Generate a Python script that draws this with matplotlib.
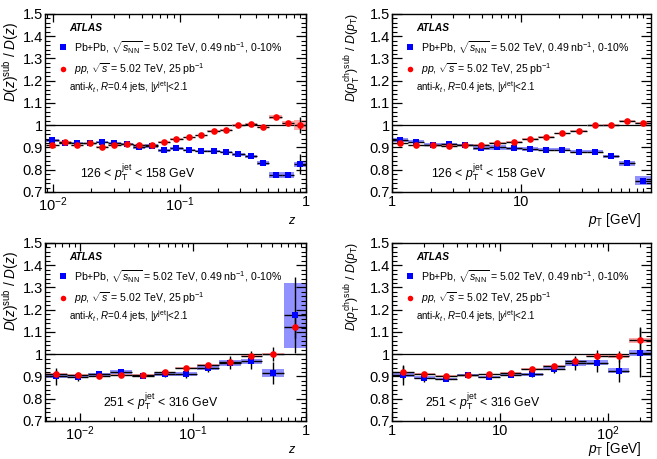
import numpy as np
import matplotlib
matplotlib.use("Agg")
import matplotlib.pyplot as plt
from matplotlib.ticker import MultipleLocator, FixedLocator, NullFormatter, LogLocator

plt.rcParams['font.family'] = ['Liberation Sans', 'DejaVu Sans']
plt.rcParams['mathtext.fontset'] = 'custom'
plt.rcParams['mathtext.rm'] = 'Liberation Sans'
plt.rcParams['mathtext.it'] = 'Liberation Sans:italic'
plt.rcParams['mathtext.bf'] = 'Liberation Sans:bold'

# ---- data: 126 < pT jet < 158 GeV, D(z) ----
z_edges_126 = [0.00877, 0.0110, 0.0138, 0.0173, 0.0217, 0.0272, 0.0341, 0.0427, 0.0536, 0.0672, 0.0842,
               0.1056, 0.1324, 0.166, 0.208, 0.261, 0.327, 0.410, 0.514, 0.645, 0.808, 1.0]
pbpb_z_126 = [0.932, 0.921, 0.921, 0.918, 0.925, 0.922, 0.916, 0.903, 0.907, 0.888, 0.897,
              0.890, 0.886, 0.886, 0.880, 0.869, 0.860, 0.831, 0.776, 0.776, 0.825]
pbpb_z_126_stat = [0.003, 0.003, 0.003, 0.003, 0.003, 0.003, 0.003, 0.003, 0.003, 0.003, 0.003,
                   0.003, 0.003, 0.003, 0.003, 0.003, 0.004, 0.005, 0.008, 0.010, 0.045]
pbpb_z_126_sys = [0.006, 0.004, 0.004, 0.004, 0.004, 0.004, 0.004, 0.008, 0.008, 0.006, 0.006,
                  0.005, 0.005, 0.005, 0.005, 0.005, 0.005, 0.009, 0.013, 0.014, 0.012]
pp_z_126 = [0.910, 0.925, 0.910, 0.918, 0.903, 0.913, 0.916, 0.913, 0.913, 0.925, 0.938,
            0.946, 0.954, 0.976, 0.978, 1.001, 1.006, 0.991, 1.038, 1.009, 1.001]
pp_z_126_stat = [0.002, 0.002, 0.002, 0.002, 0.002, 0.002, 0.002, 0.002, 0.002, 0.002, 0.002,
                 0.002, 0.002, 0.002, 0.002, 0.002, 0.003, 0.004, 0.006, 0.010, 0.035]
pp_z_126_sys = [0.003, 0.003, 0.003, 0.003, 0.003, 0.003, 0.003, 0.003, 0.003, 0.003, 0.003,
                0.003, 0.003, 0.003, 0.003, 0.003, 0.004, 0.004, 0.010, 0.008, 0.022]

# ---- data: 126 < pT jet < 158 GeV, D(pT) ----
pt_edges_126 = [1.0, 1.337, 1.787, 2.39, 3.19, 4.27, 5.71, 7.63, 10.2, 13.6, 18.2, 24.4, 32.6,
                43.5, 58.2, 77.8, 103.0]
pbpb_pt_126 = [0.934, 0.926, 0.913, 0.916, 0.910, 0.899, 0.900, 0.896, 0.894, 0.890, 0.890,
               0.882, 0.882, 0.860, 0.829, 0.751]
pbpb_pt_126_stat = [0.003, 0.003, 0.003, 0.003, 0.003, 0.003, 0.003, 0.003, 0.003, 0.003, 0.003,
                    0.003, 0.003, 0.003, 0.004, 0.006]
pbpb_pt_126_sys = [0.008, 0.006, 0.005, 0.005, 0.005, 0.009, 0.009, 0.008, 0.008, 0.006, 0.006,
                   0.005, 0.005, 0.005, 0.010, 0.020]
pp_pt_126 = [0.918, 0.910, 0.913, 0.907, 0.909, 0.913, 0.921, 0.926, 0.938, 0.949, 0.963,
             0.975, 0.999, 1.001, 1.021, 1.010]
pp_pt_126_stat = [0.002, 0.002, 0.002, 0.002, 0.002, 0.002, 0.002, 0.002, 0.002, 0.002, 0.002,
                  0.002, 0.002, 0.003, 0.004, 0.005]
pp_pt_126_sys = [0.003, 0.003, 0.003, 0.003, 0.003, 0.003, 0.003, 0.003, 0.003, 0.003, 0.003,
                 0.003, 0.003, 0.003, 0.004, 0.005]

# ---- data: 251 < pT jet < 316 GeV, D(z) ----
z_edges_251 = [0.00490, 0.00763, 0.01189, 0.01852, 0.02884, 0.0449, 0.0700, 0.1090, 0.1698,
               0.2645, 0.412, 0.642, 1.0]
pbpb_z_251 = [0.901, 0.899, 0.910, 0.921, 0.903, 0.910, 0.910, 0.938, 0.962, 0.968, 0.916, 1.175]
pbpb_z_251_stat = [0.037, 0.020, 0.015, 0.012, 0.010, 0.012, 0.015, 0.020, 0.030, 0.035, 0.050, 0.170]
pbpb_z_251_sys = [0.008, 0.006, 0.006, 0.008, 0.005, 0.006, 0.008, 0.010, 0.013, 0.012, 0.018, 0.145]
pp_z_251 = [0.913, 0.907, 0.904, 0.906, 0.907, 0.918, 0.937, 0.950, 0.966, 0.993, 1.001, 1.124]
pp_z_251_stat = [0.015, 0.008, 0.006, 0.005, 0.005, 0.006, 0.008, 0.010, 0.015, 0.020, 0.030, 0.050]
pp_z_251_sys = [0.004, 0.004, 0.004, 0.004, 0.004, 0.004, 0.004, 0.004, 0.004, 0.004, 0.005, 0.010]

# ---- data: 251 < pT jet < 316 GeV, D(pT) ----
pt_edges_251 = [1.0, 1.585, 2.512, 3.981, 6.31, 10.0, 15.85, 25.12, 39.81, 63.1, 100.0, 158.5, 251.2]
pbpb_pt_251 = [0.906, 0.894, 0.890, 0.906, 0.899, 0.906, 0.909, 0.935, 0.960, 0.962, 0.926, 1.006]
pbpb_pt_251_stat = [0.045, 0.020, 0.010, 0.008, 0.008, 0.008, 0.010, 0.020, 0.030, 0.040, 0.050, 0.110]
pbpb_pt_251_sys = [0.008, 0.006, 0.005, 0.005, 0.005, 0.005, 0.006, 0.008, 0.012, 0.012, 0.012, 0.013]
pp_pt_251 = [0.918, 0.910, 0.904, 0.906, 0.909, 0.916, 0.932, 0.947, 0.968, 0.993, 0.990, 1.063]
pp_pt_251_stat = [0.030, 0.010, 0.006, 0.005, 0.005, 0.006, 0.008, 0.010, 0.020, 0.025, 0.026, 0.060]
pp_pt_251_sys = [0.004, 0.004, 0.004, 0.004, 0.004, 0.004, 0.004, 0.004, 0.004, 0.005, 0.006, 0.012]

BLUE = '#0000ff'
RED = '#ff0000'
BLUE_BOX = '#9191ff'
RED_BOX = '#ffaaaa'

ylab_z = r'$D(z)^{\mathrm{sub}}\ /\ D(z)$'
ylab_pt = r'$D(p_{\mathrm{T}}^{\mathrm{ch}})^{\mathrm{sub}}\ /\ D(p_{\mathrm{T}})$'

fig = plt.figure(figsize=(6.57, 4.59), dpi=100)
renderer = fig.canvas.get_renderer()


def fit_text(txt, target_px, use_height=False):
    # rescale a text so its drawn length matches the reference (in pixels)
    bb = txt.get_window_extent(renderer)
    size = bb.height if use_height else bb.width
    txt.set_fontsize(txt.get_fontsize() * target_px / size)


def draw_series(ax, edges, vals, stat, sys, color, box_color, marker, box_z):
    edges = np.array(edges)
    lo, hi = edges[:-1], edges[1:]
    x = np.sqrt(lo * hi)
    vals = np.array(vals)
    sys = np.array(sys)
    ax.bar(lo, 2 * sys, width=hi - lo, bottom=vals - sys, align='edge',
           color=box_color, edgecolor='none', zorder=box_z)
    ax.errorbar(x, vals, yerr=stat, xerr=[x - lo, hi - x], fmt='none',
                ecolor='black', elinewidth=1.0, capsize=0, zorder=2)
    ax.plot(x, vals, linestyle='none', marker=marker, color=color,
            markersize=4.8, markeredgewidth=0, zorder=3)


def style_panel(ax, xlim, ylabel, ylab_x, ylab_len, xlabel, xlab_len,
                jet_label, jet_x, major_x, labels_x):
    ax.set_xscale('log')
    ax.set_xlim(*xlim)
    ax.set_ylim(0.7, 1.5)
    ax.axhline(1.0, color='black', linewidth=0.9, zorder=0)
    ax.yaxis.set_minor_locator(MultipleLocator(0.02))
    ax.set_yticks([0.7, 0.8, 0.9, 1.0, 1.1, 1.2, 1.3, 1.4, 1.5])
    ax.set_yticklabels(['0.7', '0.8', '0.9', '1', '1.1', '1.2', '1.3', '1.4', '1.5'])
    ax.xaxis.set_major_locator(FixedLocator(major_x))
    ax.set_xticklabels(labels_x)
    ax.xaxis.set_minor_locator(LogLocator(base=10, subs=np.arange(2, 10), numticks=20))
    ax.xaxis.set_minor_formatter(NullFormatter())
    ax.tick_params(which='both', direction='in', top=True, right=True, labelsize=10.5)
    ax.tick_params(axis='y', which='major', length=7, width=0.9, pad=1.5)
    ax.tick_params(axis='y', which='minor', length=3.5, width=0.8)
    ax.tick_params(axis='x', which='major', length=6, width=0.9, pad=2.5)
    ax.tick_params(axis='x', which='minor', length=3, width=0.8)
    for s in ax.spines.values():
        s.set_linewidth(1.0)

    t = ax.text(ylab_x, 0.505, ylabel, transform=ax.transAxes, rotation=90,
                ha='center', va='bottom', fontsize=10)
    fit_text(t, ylab_len, use_height=True)
    t = ax.text(0.965, -0.178, xlabel, transform=ax.transAxes, ha='right',
                va='baseline', fontsize=10.5)
    fit_text(t, xlab_len)

    ax.text(0.092, 0.921, 'ATLAS', transform=ax.transAxes, fontsize=7.3,
            fontweight='bold', fontstyle='italic', va='center')
    ax.plot([0.069], [0.812], transform=ax.transAxes, marker='s', color=BLUE,
            markersize=4, markeredgewidth=0, linestyle='none')
    t = ax.text(0.112, 0.812,
                r'Pb+Pb, $\sqrt{s_{\mathrm{NN}}}$ = 5.02 TeV, 0.49 nb$^{-1}$, 0-10%',
                transform=ax.transAxes, fontsize=7.8, va='center')
    fit_text(t, 207)
    fs = t.get_fontsize()
    ax.plot([0.069], [0.690], transform=ax.transAxes, marker='o', color=RED,
            markersize=4, markeredgewidth=0, linestyle='none')
    ax.text(0.112, 0.690, r'$pp$, $\sqrt{s}$ = 5.02 TeV, 25 pb$^{-1}$',
            transform=ax.transAxes, fontsize=fs, va='center')
    t = ax.text(0.092, 0.590, r'anti-$k_{t}$, $R$=0.4 jets, $|y^{\mathrm{jet}}|$<2.1',
                transform=ax.transAxes, fontsize=6.8, va='center')
    fit_text(t, 121)
    t = ax.text(jet_x, 0.105, jet_label, transform=ax.transAxes, fontsize=9.5, va='center')
    fit_text(t, 116)


ax_tl = fig.add_axes([0.0685, 0.5817, 0.397, 0.3878])
ax_tr = fig.add_axes([0.5966, 0.5817, 0.3942, 0.3878])
ax_bl = fig.add_axes([0.0685, 0.0828, 0.397, 0.3878])
ax_br = fig.add_axes([0.5966, 0.0828, 0.3942, 0.3878])

draw_series(ax_tl, z_edges_126, pbpb_z_126, pbpb_z_126_stat, pbpb_z_126_sys, BLUE, BLUE_BOX, 's', 1.0)
draw_series(ax_tl, z_edges_126, pp_z_126, pp_z_126_stat, pp_z_126_sys, RED, RED_BOX, 'o', 0.9)
style_panel(ax_tl, (0.0086, 1.0), ylab_z, -0.133, 80, r'$z$', 8,
            r'126 < $p_{\mathrm{T}}^{\mathrm{jet}}$ < 158 GeV', 0.134,
            [0.01, 0.1, 1.0], [r'$10^{\mathrm{-2}}$', r'$10^{\mathrm{-1}}$', '1'])

draw_series(ax_tr, pt_edges_126, pbpb_pt_126, pbpb_pt_126_stat, pbpb_pt_126_sys, BLUE, BLUE_BOX, 's', 1.0)
draw_series(ax_tr, pt_edges_126, pp_pt_126, pp_pt_126_stat, pp_pt_126_sys, RED, RED_BOX, 'o', 0.9)
style_panel(ax_tr, (1.0, 103.0), ylab_pt, -0.152, 89, r'$p_{\mathrm{T}}$ [GeV]', 54,
            r'126 < $p_{\mathrm{T}}^{\mathrm{jet}}$ < 158 GeV', 0.151,
            [1.0, 10.0], ['1', '10'])

draw_series(ax_bl, z_edges_251, pbpb_z_251, pbpb_z_251_stat, pbpb_z_251_sys, BLUE, BLUE_BOX, 's', 1.0)
draw_series(ax_bl, z_edges_251, pp_z_251, pp_z_251_stat, pp_z_251_sys, RED, RED_BOX, 'o', 0.9)
style_panel(ax_bl, (0.0049, 1.0), ylab_z, -0.133, 80, r'$z$', 8,
            r'251 < $p_{\mathrm{T}}^{\mathrm{jet}}$ < 316 GeV', 0.222,
            [0.01, 0.1, 1.0], [r'$10^{-2}$', r'$10^{-1}$', '1'])

draw_series(ax_br, pt_edges_251, pbpb_pt_251, pbpb_pt_251_stat, pbpb_pt_251_sys, BLUE, BLUE_BOX, 's', 1.0)
draw_series(ax_br, pt_edges_251, pp_pt_251, pp_pt_251_stat, pp_pt_251_sys, RED, RED_BOX, 'o', 0.9)
style_panel(ax_br, (1.0, 251.2), ylab_pt, -0.152, 89, r'$p_{\mathrm{T}}$ [GeV]', 54,
            r'251 < $p_{\mathrm{T}}^{\mathrm{jet}}$ < 316 GeV', 0.127,
            [1.0, 10.0, 100.0], ['1', '10', r'$10^{2}$'])

fig.savefig('out.png', dpi=100, facecolor='white')
